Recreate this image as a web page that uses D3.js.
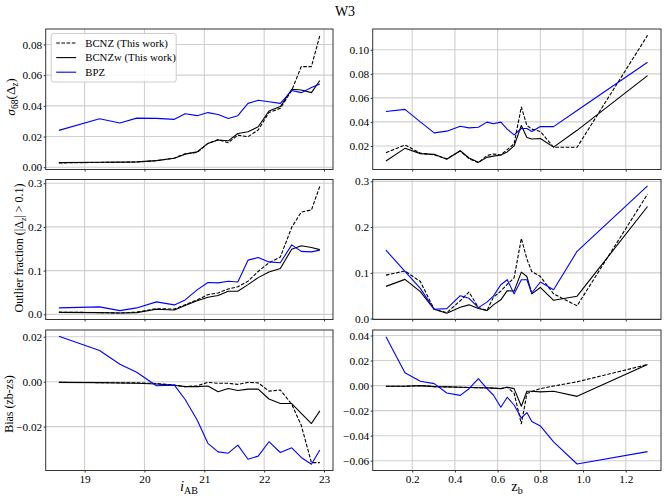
<!DOCTYPE html>
<html><head><meta charset="utf-8">
<script src="https://cdn.jsdelivr.net/npm/d3@7"></script>
<style>
body{margin:0;background:#fff}
text{font-family:"Liberation Serif","DejaVu Serif",serif;fill:#000}
</style>
</head><body>
<svg id="c" width="664" height="502"></svg>
<script>
// ---------- data (left column: i_AB bins) ----------
const iAB = [18.57, 19.25, 19.59, 19.87, 20.2, 20.5, 20.68, 20.88, 21.06, 21.23, 21.4, 21.56, 21.73, 21.9, 22.08, 22.27, 22.46, 22.62, 22.79, 22.93];
const sigBCNZ_i  = [0.0028, 0.0031, 0.0032, 0.0034, 0.0042, 0.0060, 0.0088, 0.0096, 0.0155, 0.0180, 0.0160, 0.0209, 0.0199, 0.0242, 0.0357, 0.0384, 0.0500, 0.0656, 0.0656, 0.0859];
const sigBCNZw_i = [0.0030, 0.0032, 0.0033, 0.0035, 0.0043, 0.0058, 0.0085, 0.0100, 0.0155, 0.0177, 0.0172, 0.0220, 0.0231, 0.0264, 0.0366, 0.0395, 0.0508, 0.0503, 0.0486, 0.0565];
const sigBPZ_i   = [0.0240, 0.0316, 0.0288, 0.0320, 0.0318, 0.0312, 0.0349, 0.0336, 0.0356, 0.0344, 0.0318, 0.0336, 0.0416, 0.0436, 0.0427, 0.0416, 0.0500, 0.0486, 0.0519, 0.0543];
const outBCNZ_i  = [0.005, 0.004, 0.003, 0.005, 0.013, 0.012, 0.022, 0.033, 0.045, 0.049, 0.058, 0.063, 0.076, 0.098, 0.118, 0.131, 0.199, 0.234, 0.239, 0.293];
const outBCNZw_i = [0.0046, 0.004, 0.003, 0.004, 0.0116, 0.010, 0.020, 0.031, 0.039, 0.043, 0.053, 0.053, 0.068, 0.084, 0.097, 0.105, 0.149, 0.157, 0.153, 0.148];
const outBPZ_i   = [0.0147, 0.017, 0.0085, 0.0147, 0.0285, 0.0216, 0.033, 0.056, 0.073, 0.072, 0.0756, 0.074, 0.124, 0.130, 0.120, 0.118, 0.159, 0.144, 0.143, 0.147];
const biasBCNZ_i  = [-0.0003, -0.0004, -0.0005, -0.0005, -0.0008, -0.0015, -0.0022, -0.0018, -0.0003, -0.0007, -0.0007, -0.0012, -0.0003, -0.0005, -0.0042, -0.0037, -0.0100, -0.0194, -0.0360, -0.0360];
const biasBCNZw_i = [-0.0003, -0.0004, -0.0006, -0.0007, -0.0010, -0.0016, -0.0022, -0.0022, -0.0019, -0.0045, -0.0030, -0.0039, -0.0033, -0.0033, -0.0077, -0.0097, -0.0097, -0.0141, -0.0186, -0.0130];
const biasBPZ_i   = [0.0202, 0.0139, 0.0078, 0.0042, -0.0018, -0.0015, -0.0079, -0.0170, -0.0274, -0.0312, -0.0318, -0.0282, -0.0345, -0.0331, -0.0267, -0.0315, -0.0294, -0.0337, -0.0367, -0.0304];

// ---------- data (right column: z_b bins) ----------
const zB = [0.077, 0.166, 0.238, 0.303, 0.362, 0.425, 0.466, 0.51, 0.55, 0.58, 0.615, 0.645, 0.677, 0.711, 0.737, 0.76, 0.80, 0.862, 0.972, 1.302];
const sigBCNZ_z  = [0.0144, 0.0208, 0.0140, 0.0125, 0.0094, 0.0158, 0.0095, 0.0060, 0.0120, 0.0133, 0.0125, 0.0170, 0.0217, 0.0524, 0.0370, 0.0340, 0.0320, 0.0189, 0.0189, 0.1120];
const sigBCNZw_z = [0.0075, 0.0180, 0.0136, 0.0130, 0.0089, 0.0160, 0.0100, 0.0065, 0.0105, 0.0115, 0.0125, 0.0150, 0.0200, 0.0370, 0.0270, 0.0258, 0.0262, 0.0190, 0.0330, 0.0785];
const sigBPZ_z   = [0.0487, 0.0504, 0.0400, 0.0309, 0.0323, 0.0364, 0.0350, 0.0356, 0.0398, 0.0384, 0.0398, 0.0340, 0.0292, 0.0345, 0.0345, 0.0320, 0.0361, 0.0361, 0.0495, 0.0897];
const outBCNZ_z  = [0.095, 0.104, 0.081, 0.0203, 0.013, 0.039, 0.058, 0.024, 0.0174, 0.0465, 0.060, 0.075, 0.089, 0.175, 0.130, 0.103, 0.092, 0.054, 0.028, 0.272];
const outBCNZw_z = [0.0704, 0.0857, 0.0588, 0.0203, 0.0116, 0.0247, 0.030, 0.022, 0.0175, 0.030, 0.041, 0.061, 0.060, 0.1015, 0.092, 0.054, 0.068, 0.040, 0.049, 0.245];
const outBPZ_z   = [0.1496, 0.103, 0.066, 0.0203, 0.0218, 0.050, 0.0443, 0.024, 0.036, 0.049, 0.074, 0.085, 0.054, 0.085, 0.085, 0.056, 0.080, 0.063, 0.147, 0.290];
const biasBCNZ_z  = [-0.0005, -0.0005, 0.0000, -0.0008, -0.0010, -0.0013, -0.0015, -0.0017, -0.0018, -0.0020, -0.0024, -0.0013, -0.0060, -0.0305, -0.0064, -0.0048, -0.0024, -0.0003, 0.0030, 0.0168];
const biasBCNZw_z = [-0.0005, -0.0005, 0.0000, -0.0008, -0.0010, -0.0013, -0.0015, -0.0017, -0.0018, -0.0020, -0.0024, -0.0013, -0.0024, -0.0165, -0.0045, -0.0045, -0.0050, -0.0045, -0.0086, 0.0168];
const biasBPZ_z   = [0.0390, 0.0102, 0.0035, 0.0016, -0.0059, -0.0078, -0.0025, 0.0055, -0.0024, -0.0075, -0.0173, -0.0093, -0.0155, -0.0258, -0.0215, -0.0286, -0.0322, -0.0450, -0.0626, -0.0527];

// ---------- tick labels ----------
const xTicksI = [19, 20, 21, 22, 23];
const xTicksZ = [0.2, 0.4, 0.6, 0.8, 1.0, 1.2];
const yTicksSigI = [0, 0.02, 0.04, 0.06, 0.08];
const yTicksSigZ = [0.02, 0.04, 0.06, 0.08, 0.10];
const yTicksOut = [0, 0.1, 0.2, 0.3];
const yTicksBiasI = [-0.02, 0, 0.02];
const yTicksBiasZ = [-0.06, -0.04, -0.02, 0, 0.02, 0.04];
const seriesNames = ["BCNZ (This work)", "BCNZw (This work)", "BPZ"];

// ---------- layout / style ----------
const cols = [{x0: 45.7, x1: 333, dom: [18.35, 23.15], ticks: xTicksI, fmt: d3.format("d")},
              {x0: 372.7, x1: 661, dom: [0.015, 1.365], ticks: xTicksZ, fmt: d3.format(".1f")}];
const rows = [{y0: 29, y1: 169.5}, {y0: 179.5, y1: 319.5}, {y0: 330, y1: 470.5}];
const styles = [{color: "#000", dash: "3.6,1.6"}, {color: "#000", dash: null}, {color: "#0000ff", dash: null}];

const panels = [
  {c: 0, r: 0, x: iAB, ys: [sigBCNZ_i, sigBCNZw_i, sigBPZ_i], yd: [-0.0015, 0.0901], yt: yTicksSigI, f: ".2f"},
  {c: 1, r: 0, x: zB,  ys: [sigBCNZ_z, sigBCNZw_z, sigBPZ_z], yd: [0.0004, 0.1173], yt: yTicksSigZ, f: ".2f"},
  {c: 0, r: 1, x: iAB, ys: [outBCNZ_i, outBCNZw_i, outBPZ_i], yd: [-0.0118, 0.3085], yt: yTicksOut, f: ".1f"},
  {c: 1, r: 1, x: zB,  ys: [outBCNZ_z, outBCNZw_z, outBPZ_z], yd: [-0.002, 0.304], yt: yTicksOut, f: ".1f"},
  {c: 0, r: 2, x: iAB, ys: [biasBCNZ_i, biasBCNZw_i, biasBPZ_i], yd: [-0.0395, 0.0230], yt: yTicksBiasI, f: ".2f"},
  {c: 1, r: 2, x: zB,  ys: [biasBCNZ_z, biasBCNZw_z, biasBPZ_z], yd: [-0.0678, 0.0444], yt: yTicksBiasZ, f: ".2f"}
];

const svg = d3.select("#c");
svg.append("rect").attr("width", 664).attr("height", 502).attr("fill", "#fff");

panels.forEach(p => {
  const col = cols[p.c], row = rows[p.r];
  const w = col.x1 - col.x0, h = row.y1 - row.y0;
  const xs = d3.scaleLinear().domain(col.dom).range([0, w]);
  const ys = d3.scaleLinear().domain(p.yd).range([h, 0]);
  const g = svg.append("g").attr("transform", `translate(${col.x0},${row.y0})`);

  // grid
  const grid = g.append("g").attr("stroke", "#cfcfcf").attr("stroke-width", 1.1);
  grid.selectAll("line.vx").data(col.ticks).join("line")
    .attr("x1", d => xs(d)).attr("x2", d => xs(d)).attr("y1", 0).attr("y2", h);
  grid.selectAll("line.hy").data(p.yt).join("line")
    .attr("x1", 0).attr("x2", w).attr("y1", d => ys(d)).attr("y2", d => ys(d));

  // lines
  const line = d3.line().x(d => xs(d[0])).y(d => ys(d[1]));
  p.ys.forEach((vals, k) => {
    g.append("path")
      .attr("d", line(p.x.map((xv, j) => [xv, vals[j]])))
      .attr("fill", "none")
      .attr("stroke", styles[k].color)
      .attr("stroke-width", 1.1)
      .attr("stroke-dasharray", styles[k].dash)
      .attr("stroke-linejoin", "round");
  });

  // frame
  g.append("rect").attr("width", w).attr("height", h)
    .attr("fill", "none").attr("stroke", "#333").attr("stroke-width", 1);

  // axes
  const ax = d3.axisBottom(xs).tickValues(col.ticks).tickSize(2).tickPadding(2)
    .tickFormat(p.r === 2 ? col.fmt : () => "");
  const gx = g.append("g").attr("transform", `translate(0,${h})`).call(ax);
  const ay = d3.axisLeft(ys).tickValues(p.yt).tickSize(2).tickPadding(1.5).tickFormat(d3.format(p.f));
  const gy = g.append("g").call(ay);
  [gx, gy].forEach(a => {
    a.select(".domain").remove();
    a.selectAll("line").attr("stroke", "#333");
    a.selectAll("text").attr("font-family", '"Liberation Serif",serif').attr("font-size", 11.3).attr("fill", "#222");
  });

  // legend
  if (p.c === 0 && p.r === 0) {
    const lg = g.append("g").attr("transform", "translate(5.5,4.5)");
    lg.append("rect").attr("width", 125).attr("height", 48.5).attr("rx", 2.5)
      .attr("fill", "#fff").attr("fill-opacity", 0.85).attr("stroke", "#cccccc").attr("stroke-width", 1);
    seriesNames.forEach((nm, k) => {
      const yy = 9.5 + k * 14.6;
      lg.append("line").attr("x1", 5).attr("x2", 25).attr("y1", yy).attr("y2", yy)
        .attr("stroke", styles[k].color).attr("stroke-width", 1.1).attr("stroke-dasharray", styles[k].dash);
      lg.append("text").attr("x", 34).attr("y", yy).attr("dy", "0.35em")
        .attr("font-size", 10.8).text(nm);
    });
  }
});

// title
svg.append("text").attr("x", 345).attr("y", 16).attr("text-anchor", "middle")
  .attr("font-size", 14).text("W3");

// y labels
const yl1 = svg.append("text").attr("transform", "translate(15,97) rotate(-90)")
  .attr("text-anchor", "middle").attr("font-size", 13.5);
yl1.append("tspan").attr("font-style", "italic").text("σ");
yl1.append("tspan").attr("font-size", 9.5).attr("dy", 2.7).text("68");
yl1.append("tspan").attr("dy", -2.7).text("(Δ");
yl1.append("tspan").attr("font-style", "italic").attr("font-size", 9.5).attr("dy", 2.7).text("z");
yl1.append("tspan").attr("dy", -2.7).text(")");

const yl2 = svg.append("text").attr("transform", "translate(23,248) rotate(-90)")
  .attr("text-anchor", "middle").attr("font-size", 12);
yl2.append("tspan").text("Outlier fraction (|Δ");
yl2.append("tspan").attr("font-style", "italic").attr("font-size", 8.5).attr("dy", 2.5).text("z");
yl2.append("tspan").attr("dy", -2.5).text("| > 0.1)");

svg.append("text").attr("transform", "translate(13,404) rotate(-90)")
  .attr("text-anchor", "middle").attr("font-size", 12).text("Bias (zb-zs)");

// x labels
const xl1 = svg.append("text").attr("x", 189).attr("y", 491).attr("text-anchor", "middle").attr("font-size", 14.5);
xl1.append("tspan").attr("font-style", "italic").text("i");
xl1.append("tspan").attr("font-size", 10).attr("dy", 3).text("AB");

const xl2 = svg.append("text").attr("x", 517).attr("y", 491).attr("text-anchor", "middle").attr("font-size", 14.5);
xl2.append("tspan").text("z");
xl2.append("tspan").attr("font-size", 10).attr("dy", 3).text("b");
</script>
</body></html>
